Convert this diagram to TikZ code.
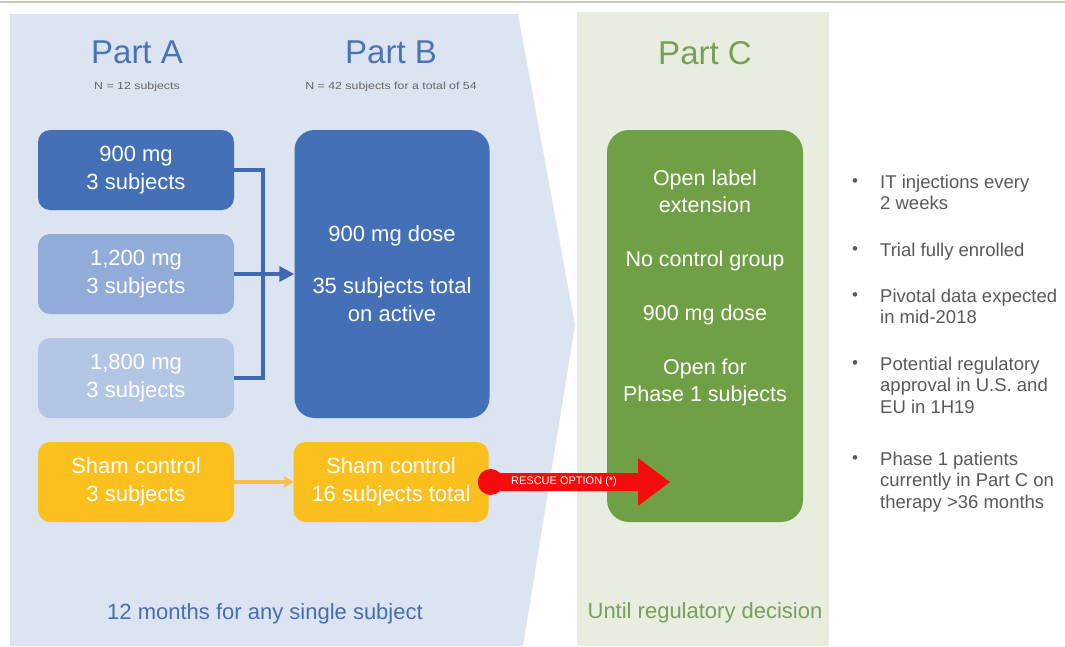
\documentclass[tikz,border=0pt]{standalone}
\usepackage{fontspec}
\setmainfont{Liberation Sans}
\newfontfamily\subfont[FakeStretch=1.2]{Liberation Sans}
\usetikzlibrary{arrows.meta}
\definecolor{bgblue}{HTML}{DCE4F1}
\definecolor{bggreen}{HTML}{E7EDDF}
\definecolor{topl}{HTML}{C9CAB4}
\definecolor{blueA}{HTML}{4470B8}
\definecolor{blueB}{HTML}{92ACD9}
\definecolor{blueC}{HTML}{B4C6E6}
\definecolor{shamc}{HTML}{FBBF1E}
\definecolor{shamarrow}{HTML}{F7C048}
\definecolor{greenbox}{HTML}{70A046}
\definecolor{titleblue}{HTML}{4B74B6}
\definecolor{partc}{HTML}{77A055}
\definecolor{subgray}{HTML}{666666}
\definecolor{botblue}{HTML}{476EAE}
\definecolor{botgreen}{HTML}{7A9E5C}
\definecolor{bulgray}{HTML}{595959}
\definecolor{connblue}{HTML}{3F69B0}
\definecolor{rescuered}{HTML}{F50C0C}
\begin{document}
\begin{tikzpicture}[x=1pt,y=-1pt,
  box/.style={rounded corners=12pt, minimum width=196pt, minimum height=80pt,
    inner sep=0pt, align=center, text=white, font=\fontsize{22}{28}\selectfont},
  boxtext/.style={inner sep=0pt, align=center, text=white, font=\fontsize{21.5}{27}\selectfont},
  titlefont/.style={inner sep=0pt, text=titleblue, font=\fontsize{33}{36}\selectfont, anchor=base},
  subt/.style={inner sep=0pt, text=subgray, font=\subfont\fontsize{10.3}{12}\selectfont, anchor=base},
  bottomtext/.style={inner sep=0pt, font=\fontsize{22}{26}\selectfont, anchor=base},
  bultext/.style={inner sep=0pt, align=left, text=bulgray, font=\fontsize{18.5}{21.5}\selectfont, anchor=north west},
  buldot/.style={inner sep=0pt, text=bulgray, font=\fontsize{17}{17}\selectfont},
  conn/.style={draw=connblue, line width=3.5pt},
  shamline/.style={draw=shamarrow, line width=4pt, -{Triangle[length=9pt,width=11pt]}},
  rescue/.style={fill=rescuered}
]
\useasboundingbox (0,0) rectangle (1065,646);
\fill[white] (0,0) rectangle (1065,646);
\draw[topl, line width=2pt] (0,2) -- (1065,2);
% backgrounds
\fill[bgblue] (10,14) -- (518,14) -- (575,325) -- (523,646) -- (10,646) -- cycle;
\fill[bggreen] (577,12) rectangle (829,646);

% titles
\node[titlefont] (ta) at (137,63) {Part A};
\node[subt] (sta) at (137,89) {N = 12 subjects};
\node[titlefont] (tb) at (391,63) {Part B};
\node[subt] (stb) at (391,89) {N = 42 subjects for a total of 54};
\node[titlefont, text=partc] (tc) at (705,64) {Part C};

% Part A boxes
\node[box, fill=blueA] (b1) at (136,170) {900 mg\\3 subjects};
\node[box, fill=blueB] (b2) at (136,274) {1,200 mg\\3 subjects};
\node[box, fill=blueC] (b3) at (136,378) {1,800 mg\\3 subjects};
\node[box, fill=shamc] (sa) at (136,482) {Sham control\\3 subjects};

% Part B boxes
\node[box, fill=blueA, minimum width=195pt, minimum height=288pt, rounded corners=20pt] (pb) at (392,274)
  {900 mg dose\\[24pt]35 subjects total\\on active};
\node[box, fill=shamc, minimum width=195pt] (sb) at (391,482) {Sham control\\16 subjects total};

% Part C box
\node[box, fill=greenbox, minimum width=196pt, minimum height=392pt, rounded corners=22pt] (pc) at (705,326) {};
\node[boxtext] (pctext) at (705,288)
  {Open label\\extension\\[27pt]No control group\\[27pt]900 mg dose\\[27pt]Open for\\Phase 1 subjects};

% connectors Part A -> Part B
\draw[conn] (b1.east) -- ++(29,0) |- (b3.east);
\draw[conn, -{Triangle[length=15pt,width=15pt]}] (b2.east) -- (pb.west);
\draw[shamline] (sa.east) -- (sb.west);

% rescue arrow
\coordinate (rs) at ([xshift=2pt]sb.east);
\coordinate (rt) at (670,482);
\fill[rescue] (rs) circle (13pt);
\fill[rescue] ([yshift=-9pt]rs) -- ([xshift=-32pt,yshift=-9pt]rt) -- ([xshift=-32pt,yshift=-24pt]rt)
  -- (rt) -- ([xshift=-32pt,yshift=24pt]rt) -- ([xshift=-32pt,yshift=9pt]rt) -- ([yshift=9pt]rs) -- cycle;
\node[inner sep=0pt, text=white, font=\fontsize{11}{11}\selectfont] (rlabel) at (564,482) {RESCUE OPTION (*)};

% bottom texts
\node[bottomtext, text=botblue] (fa) at (265,619) {12 months for any single subject};
\node[bottomtext, text=botgreen] (fc) at (705,618) {Until regulatory decision};

% bullets
\node[buldot] (d1) at (855,182.5) {•};
\node[bultext] (t1) at (880,174.5) {IT injections every\\2 weeks};
\node[buldot] (d2) at (855,250.5) {•};
\node[bultext] (t2) at (880,242.5) {Trial fully enrolled};
\node[buldot] (d3) at (855,296.5) {•};
\node[bultext] (t3) at (880,288.5) {Pivotal data expected\\in mid-2018};
\node[buldot] (d4) at (855,364.5) {•};
\node[bultext] (t4) at (880,356.5) {Potential regulatory\\approval in U.S. and\\EU in 1H19};
\node[buldot] (d5) at (855,459.5) {•};
\node[bultext] (t5) at (880,451.5) {Phase 1 patients\\currently in Part C on\\therapy >36 months};
\end{tikzpicture}
\end{document}
